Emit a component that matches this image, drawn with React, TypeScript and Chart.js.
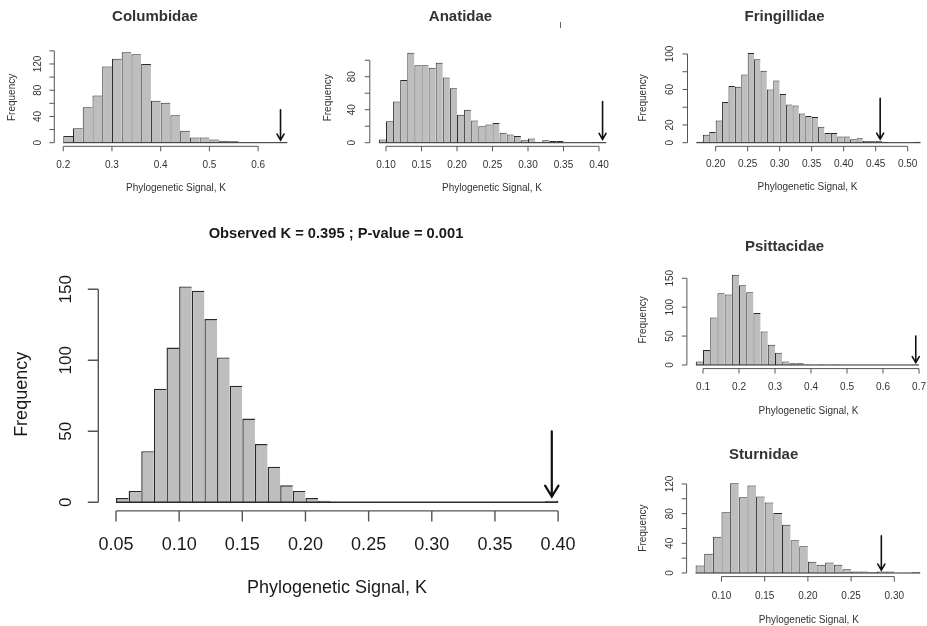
import React, { useEffect, useRef } from "react";
import { Chart, registerables } from "chart.js";

Chart.register(...registerables);

const W = 927;
const H = 626;
const FONT = '"Liberation Sans", Arial, Helvetica, sans-serif';

// ---------------- DATA ----------------
const arrowFrom = 50;
const arrowTo = 4;

// Main (all families)
const mainTitle = "Observed K = 0.395 ; P-value = 0.001";
const mainBinStart = 0.05;
const mainBinWidth = 0.01;
const mainCounts = [3, 8, 36, 80, 109, 152, 149, 129, 102, 82, 59, 41, 25, 12, 8, 3, 1,
  0, 0, 0, 0, 0, 0, 0, 0, 0, 0, 0, 0, 0, 0, 0, 0, 0, 1];
const mainObserved = 0.395;
const mainXTicks = [0.05, 0.1, 0.15, 0.2, 0.25, 0.3, 0.35, 0.4];
const mainXTickLabels = ["0.05", "0.10", "0.15", "0.20", "0.25", "0.30", "0.35", "0.40"];
const mainYTicks = [0, 50, 100, 150];
const mainYTickLabels = [0, 50, 100, 150];

// Columbidae
const columbidaeBinStart = 0.2;
const columbidaeBinWidth = 0.02;
const columbidaeCounts = [10, 22, 54, 72, 116, 128, 138, 135, 120, 64, 61, 42, 18, 8, 8, 5, 3, 2, 0, 0, 0, 0, 1];
const columbidaeObserved = 0.646;
const columbidaeXTicks = [0.2, 0.3, 0.4, 0.5, 0.6];
const columbidaeXTickLabels = ["0.2", "0.3", "0.4", "0.5", "0.6"];
const columbidaeYTicks = [0, 20, 40, 60, 80, 100, 120, 140];
const columbidaeYTickLabels = [0, 40, 80, 120];

// Anatidae
const anatidaeBinStart = 0.09;
const anatidaeBinWidth = 0.01;
const anatidaeCounts = [4, 26, 50, 76, 109, 94, 94, 91, 97, 79, 66, 34, 40, 27, 20, 22, 24, 12, 10, 8,
  3, 5, 1, 3, 2, 2, 0, 0, 0, 0, 1, 1];
const anatidaeObserved = 0.405;
const anatidaeXTicks = [0.1, 0.15, 0.2, 0.25, 0.3, 0.35, 0.4];
const anatidaeXTickLabels = ["0.10", "0.15", "0.20", "0.25", "0.30", "0.35", "0.40"];
const anatidaeYTicks = [0, 20, 40, 60, 80, 100];
const anatidaeYTickLabels = [0, 40, 80];

// Fringillidae
const fringillidaeBinStart = 0.17;
const fringillidaeBinWidth = 0.01;
const fringillidaeCounts = [1, 9, 12, 25, 46, 64, 63, 77, 101, 94, 81, 60, 70, 55, 43, 42, 33, 30, 29, 18,
  11, 11, 7, 7, 4, 5, 2, 2, 2, 1, 0, 0, 0, 0, 1];
const fringillidaeObserved = 0.457;
const fringillidaeXTicks = [0.2, 0.25, 0.3, 0.35, 0.4, 0.45, 0.5];
const fringillidaeXTickLabels = ["0.20", "0.25", "0.30", "0.35", "0.40", "0.45", "0.50"];
const fringillidaeYTicks = [0, 20, 40, 60, 80, 100];
const fringillidaeYTickLabels = [0, 20, 60, 100];

// Psittacidae
const psittacidaeBinStart = 0.08;
const psittacidaeBinWidth = 0.02;
const psittacidaeCounts = [6, 26, 82, 124, 122, 156, 138, 126, 90, 58, 35, 21, 6, 3, 3, 1, 0, 1, 0, 1,
  0, 0, 0, 0, 0, 0, 0, 0, 0, 0, 1];
const psittacidaeObserved = 0.691;
const psittacidaeXTicks = [0.1, 0.2, 0.3, 0.4, 0.5, 0.6, 0.7];
const psittacidaeXTickLabels = ["0.1", "0.2", "0.3", "0.4", "0.5", "0.6", "0.7"];
const psittacidaeYTicks = [0, 50, 100, 150];
const psittacidaeYTickLabels = [0, 50, 100, 150];

// Sturnidae
const sturnidaeBinStart = 0.07;
const sturnidaeBinWidth = 0.01;
const sturnidaeCounts = [10, 26, 49, 82, 121, 102, 118, 103, 95, 81, 65, 44, 36, 15, 11, 14, 11, 5, 2, 2,
  1, 2, 2, 0, 0, 1];
const sturnidaeObserved = 0.285;
const sturnidaeXTicks = [0.1, 0.15, 0.2, 0.25, 0.3];
const sturnidaeXTickLabels = ["0.10", "0.15", "0.20", "0.25", "0.30"];
const sturnidaeYTicks = [0, 20, 40, 60, 80, 100, 120];
const sturnidaeYTickLabels = [0, 40, 80, 120];

const xLabel = "Phylogenetic Signal, K";
const yLabel = "Frequency";

// ---------------- LAYOUT / STYLE ----------------
type Panel = {
  key: string;
  title: string;
  counts: number[];
  binStart: number;
  binWidth: number;
  observed: number;
  xTicks: number[];
  xTickLabels: string[];
  yTicks: number[];
  yTickLabels: number[];
  area: { left: number; right: number; top: number; bottom: number };
  dom: { xmin: number; xmax: number; ymin: number; ymax: number };
  titlePos: [number, number];
  titleFont: string;
  xTitlePos: [number, number];
  yTitleX: number;
  xTickLabelY: number;
  yTickLabelX: number;
  tickFont: string;
  yTickFont: string;
  labelFont: string;
  tickLen: number;
  textColor: string;
  axisWidth: number;
  barBorder: number;
  arrowWidth: number;
  head: [number, number];
};

const small = {
  titleFont: `bold 15px ${FONT}`,
  tickFont: `10px ${FONT}`,
  yTickFont: `10px ${FONT}`,
  labelFont: `10px ${FONT}`,
  tickLen: 5,
  textColor: "#333",
  axisWidth: 1,
  barBorder: 1,
  arrowWidth: 1.6,
  head: [3.5, 6] as [number, number],
};

const panels: Panel[] = [
  {
    key: "main",
    title: mainTitle,
    counts: mainCounts,
    binStart: mainBinStart,
    binWidth: mainBinWidth,
    observed: mainObserved,
    xTicks: mainXTicks,
    xTickLabels: mainXTickLabels,
    yTicks: mainYTicks,
    yTickLabels: mainYTickLabels,
    area: { left: 98.3, right: 575.8, top: 277.8, bottom: 510.9 },
    dom: { xmin: 0.036, xmax: 0.414, ymin: -6.08, ymax: 158.08 },
    titlePos: [336, 233.5],
    titleFont: `bold 14.7px ${FONT}`,
    xTitlePos: [337, 588],
    yTitleX: 21.7,
    xTickLabelY: 545,
    yTickLabelX: 66,
    tickFont: `18px ${FONT}`,
    yTickFont: `17px ${FONT}`,
    labelFont: `18px ${FONT}`,
    tickLen: 10.5,
    textColor: "#1a1a1a",
    axisWidth: 1.4,
    barBorder: 1.4,
    arrowWidth: 2.2,
    head: [6.7, 11],
  },
  {
    key: "columbidae",
    title: "Columbidae",
    counts: columbidaeCounts,
    binStart: columbidaeBinStart,
    binWidth: columbidaeBinWidth,
    observed: columbidaeObserved,
    xTicks: columbidaeXTicks,
    xTickLabels: columbidaeXTickLabels,
    yTicks: columbidaeYTicks,
    yTickLabels: columbidaeYTickLabels,
    area: { left: 54.3, right: 296.3, top: 48.55, bottom: 146.3 },
    dom: { xmin: 0.1816, xmax: 0.6784, ymin: -5.52, ymax: 143.52 },
    titlePos: [155, 17],
    xTitlePos: [176, 188.5],
    yTitleX: 12.7,
    xTickLabelY: 165.5,
    yTickLabelX: 38.3,
    ...small,
  },
  {
    key: "anatidae",
    title: "Anatidae",
    counts: anatidaeCounts,
    binStart: anatidaeBinStart,
    binWidth: anatidaeBinWidth,
    observed: anatidaeObserved,
    xTicks: anatidaeXTicks,
    xTickLabels: anatidaeXTickLabels,
    yTicks: anatidaeYTicks,
    yTickLabels: anatidaeYTickLabels,
    area: { left: 369.8, right: 615.2, top: 49.2, bottom: 146.3 },
    dom: { xmin: 0.0772, xmax: 0.4228, ymin: -4.36, ymax: 113.36 },
    titlePos: [460.5, 17],
    xTitlePos: [492, 188.5],
    yTitleX: 328.3,
    xTickLabelY: 165.5,
    yTickLabelX: 352.5,
    ...small,
  },
  {
    key: "fringillidae",
    title: "Fringillidae",
    counts: fringillidaeCounts,
    binStart: fringillidaeBinStart,
    binWidth: fringillidaeBinWidth,
    observed: fringillidaeObserved,
    xTicks: fringillidaeXTicks,
    xTickLabels: fringillidaeXTickLabels,
    yTicks: fringillidaeYTicks,
    yTickLabels: fringillidaeYTickLabels,
    area: { left: 687.5, right: 926, top: 49.5, bottom: 146.3 },
    dom: { xmin: 0.156, xmax: 0.5286, ymin: -4.04, ymax: 105.04 },
    titlePos: [784.5, 17],
    xTitlePos: [807.5, 187],
    yTitleX: 643.3,
    xTickLabelY: 164.5,
    yTickLabelX: 670.5,
    ...small,
  },
  {
    key: "psittacidae",
    title: "Psittacidae",
    counts: psittacidaeCounts,
    binStart: psittacidaeBinStart,
    binWidth: psittacidaeBinWidth,
    observed: psittacidaeObserved,
    xTicks: psittacidaeXTicks,
    xTickLabels: psittacidaeXTickLabels,
    yTicks: psittacidaeYTicks,
    yTickLabels: psittacidaeYTickLabels,
    area: { left: 686.9, right: 926, top: 271.2, bottom: 368.6 },
    dom: { xmin: 0.0552, xmax: 0.7194, ymin: -6.24, ymax: 162.24 },
    titlePos: [784.5, 247.3],
    xTitlePos: [808.5, 411],
    yTitleX: 643.3,
    xTickLabelY: 387.5,
    yTickLabelX: 670.5,
    ...small,
  },
  {
    key: "sturnidae",
    title: "Sturnidae",
    counts: sturnidaeCounts,
    binStart: sturnidaeBinStart,
    binWidth: sturnidaeBinWidth,
    observed: sturnidaeObserved,
    xTicks: sturnidaeXTicks,
    xTickLabels: sturnidaeXTickLabels,
    yTicks: sturnidaeYTicks,
    yTickLabels: sturnidaeYTickLabels,
    area: { left: 686.6, right: 926, top: 479.6, bottom: 576.6 },
    dom: { xmin: 0.0596, xmax: 0.3367, ymin: -4.84, ymax: 125.84 },
    titlePos: [763.7, 455],
    xTitlePos: [808.8, 620],
    yTitleX: 643.3,
    xTickLabelY: 596.5,
    yTickLabelX: 670.5,
    ...small,
  },
];

const BAR_FILL = "#bebebe";
const BAR_EDGE = "#2a2a2a";
const AXIS_COLOR = "#555";

function makePlugin(p: Panel) {
  return {
    id: "rstyle_" + p.key,
    afterDraw(chart: any) {
      const ctx: CanvasRenderingContext2D = chart.ctx;
      const xs = chart.scales.x;
      const ys = chart.scales.y;
      const area = chart.chartArea;
      const px = (v: number) => xs.getPixelForValue(v);
      const py = (v: number) => ys.getPixelForValue(v);
      ctx.save();

      // zero-height bins baseline (R draws empty bins as flat rectangles)
      const y0 = py(0);
      ctx.strokeStyle = BAR_EDGE;
      ctx.lineWidth = p.barBorder;
      ctx.beginPath();
      ctx.moveTo(px(p.binStart), y0);
      ctx.lineTo(px(p.binStart + p.counts.length * p.binWidth), y0);
      ctx.stroke();

      // x axis
      ctx.strokeStyle = AXIS_COLOR;
      ctx.lineWidth = p.axisWidth;
      const ay = area.bottom;
      ctx.beginPath();
      ctx.moveTo(px(p.xTicks[0]), ay);
      ctx.lineTo(px(p.xTicks[p.xTicks.length - 1]), ay);
      p.xTicks.forEach((t) => {
        ctx.moveTo(px(t), ay);
        ctx.lineTo(px(t), ay + p.tickLen);
      });
      ctx.stroke();

      // y axis
      const ax = area.left;
      ctx.beginPath();
      ctx.moveTo(ax, py(p.yTicks[0]));
      ctx.lineTo(ax, py(p.yTicks[p.yTicks.length - 1]));
      p.yTicks.forEach((t) => {
        ctx.moveTo(ax, py(t));
        ctx.lineTo(ax - p.tickLen, py(t));
      });
      ctx.stroke();

      // tick labels
      ctx.fillStyle = p.textColor;
      ctx.textAlign = "center";
      ctx.textBaseline = "middle";
      ctx.font = p.tickFont;
      p.xTicks.forEach((t, i) => {
        ctx.fillText(p.xTickLabels[i], px(t), p.xTickLabelY);
      });
      ctx.font = p.yTickFont;
      p.yTickLabels.forEach((t) => {
        ctx.save();
        ctx.translate(p.yTickLabelX, py(t));
        ctx.rotate(-Math.PI / 2);
        ctx.fillText(String(t), 0, 0);
        ctx.restore();
      });

      // axis titles
      ctx.font = p.labelFont;
      ctx.fillText(xLabel, p.xTitlePos[0], p.xTitlePos[1]);
      ctx.save();
      ctx.translate(p.yTitleX, (area.top + area.bottom) / 2);
      ctx.rotate(-Math.PI / 2);
      ctx.fillText(yLabel, 0, 0);
      ctx.restore();

      // title
      ctx.font = p.titleFont;
      ctx.fillText(p.title, p.titlePos[0], p.titlePos[1]);

      // arrow for observed K
      const ox = px(p.observed);
      const yTop = py(arrowFrom);
      const yTip = py(arrowTo);
      ctx.strokeStyle = "#111";
      ctx.lineWidth = p.arrowWidth;
      ctx.lineCap = "round";
      ctx.beginPath();
      ctx.moveTo(ox, yTop);
      ctx.lineTo(ox, yTip);
      ctx.moveTo(ox - p.head[0], yTip - p.head[1]);
      ctx.lineTo(ox, yTip);
      ctx.lineTo(ox + p.head[0], yTip - p.head[1]);
      ctx.stroke();

      ctx.restore();
    },
  };
}

function HistPanel({ p }: { p: Panel }) {
  const ref = useRef<HTMLCanvasElement | null>(null);
  useEffect(() => {
    if (!ref.current) return;
    const n = p.counts.length;
    const chart = new Chart(ref.current, {
      type: "bar",
      data: {
        datasets: [
          {
            data: p.counts.map((c, i) => ({ x: p.binStart + (i + 0.5) * p.binWidth, y: c })),
            backgroundColor: BAR_FILL,
            borderColor: BAR_EDGE,
            borderSkipped: false,
            inflateAmount: 0,
            borderWidth: (c: any) => ({
              top: p.barBorder,
              left: p.barBorder,
              right: c.dataIndex === n - 1 ? p.barBorder : 0,
              bottom: 0,
            }),
            barPercentage: 1,
            categoryPercentage: 1,
          } as any,
        ],
      },
      options: {
        responsive: false,
        animation: false,
        devicePixelRatio: 1,
        events: [],
        layout: {
          padding: {
            left: p.area.left,
            right: W - p.area.right,
            top: p.area.top,
            bottom: H - p.area.bottom,
          },
        },
        plugins: { legend: { display: false }, tooltip: { enabled: false }, title: { display: false } },
        scales: {
          x: { type: "linear", display: false, min: p.dom.xmin, max: p.dom.xmax, offset: false },
          y: { type: "linear", display: false, min: p.dom.ymin, max: p.dom.ymax },
        },
      } as any,
      plugins: [makePlugin(p)],
    });
    return () => chart.destroy();
  }, [p]);
  return (
    <canvas
      ref={ref}
      width={W}
      height={H}
      style={{ position: "absolute", left: 0, top: 0, width: W, height: H }}
    />
  );
}

export default function App() {
  return (
    <div
      style={{
        position: "fixed",
        left: 0,
        top: 0,
        width: W,
        height: H,
        background: "#fff",
        overflow: "hidden",
      }}
    >
      {panels.map((p) => (
        <HistPanel key={p.key} p={p} />
      ))}
      <div
        style={{
          position: "absolute",
          left: 560,
          top: 21.5,
          width: 1,
          height: 6,
          background: "#666",
        }}
      />
    </div>
  );
}
